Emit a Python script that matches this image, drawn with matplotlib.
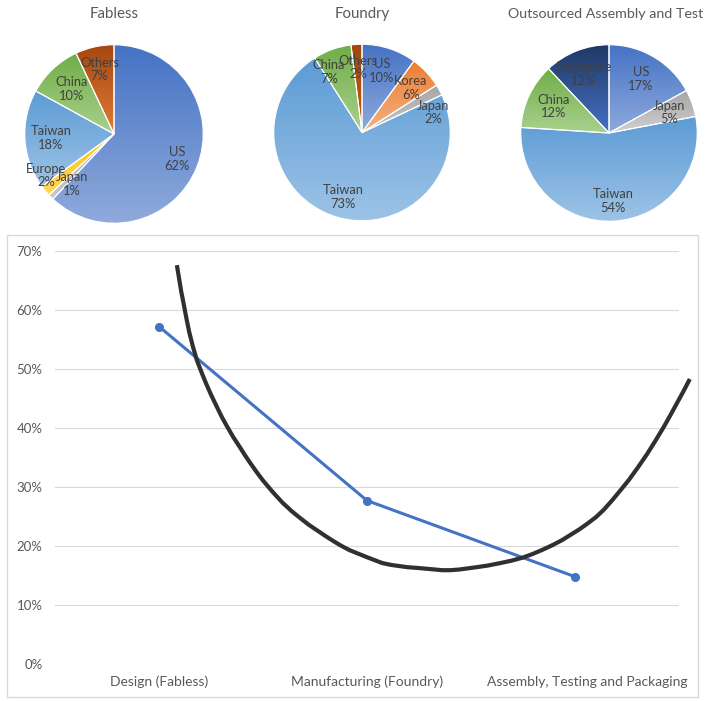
import numpy as np
import matplotlib
matplotlib.use("Agg")
import matplotlib.pyplot as plt
from matplotlib.patches import Rectangle
from matplotlib.colors import to_rgb
from matplotlib.transforms import ScaledTranslation

plt.rcParams['font.family'] = ['Lato', 'DejaVu Sans']

# ---------------- data ----------------
fabless_labels = ["US", "Japan", "Europe", "Taiwan", "China", "Others"]
fabless_values = [62, 1, 2, 18, 10, 7]

foundry_labels = ["US", "Korea", "Japan", "Taiwan", "China", "Others"]
foundry_values = [10, 6, 2, 73, 7, 2]

osat_labels = ["US", "Japan", "Taiwan", "China", "Singapore"]
osat_values = [17, 5, 54, 12, 12]

stages = ["Design (Fabless)", "Manufacturing (Foundry)", "Assembly, Testing and Packaging"]
margin_values = [0.572, 0.277, 0.148]

# smile curve traced points (category units, fraction)
smile_x = [0.086, 0.093, 0.100, 0.107, 0.115, 0.130, 0.145, 0.163, 0.182, 0.205, 0.228,
           0.252, 0.278, 0.303, 0.330, 0.358, 0.388, 0.413, 0.440, 0.470, 0.500, 0.548,
           0.595, 0.638, 0.680, 0.720, 0.758, 0.800, 0.840, 0.878, 0.916, 0.958, 1.000,
           1.037, 1.074, 1.115, 1.155, 1.196, 1.237, 1.300, 1.362, 1.400, 1.440, 1.483,
           1.525, 1.583, 1.640, 1.693, 1.746, 1.793, 1.840, 1.889, 1.938, 1.979, 2.020,
           2.060, 2.101, 2.140, 2.180, 2.220, 2.259, 2.302, 2.345, 2.386, 2.427, 2.459,
           2.490, 2.521, 2.552]
smile_y = [0.676, 0.661, 0.646, 0.631, 0.617, 0.589, 0.563, 0.538, 0.515, 0.494, 0.474,
           0.455, 0.436, 0.418, 0.401, 0.384, 0.368, 0.354, 0.340, 0.325, 0.311, 0.291,
           0.273, 0.259, 0.247, 0.236, 0.227, 0.217, 0.208, 0.200, 0.193, 0.187, 0.181,
           0.176, 0.171, 0.168, 0.166, 0.164, 0.163, 0.161, 0.159, 0.159, 0.160, 0.162,
           0.164, 0.167, 0.171, 0.175, 0.180, 0.186, 0.193, 0.201, 0.210, 0.219, 0.228,
           0.238, 0.249, 0.262, 0.278, 0.295, 0.312, 0.333, 0.355, 0.378, 0.402, 0.422,
           0.442, 0.462, 0.483]

# ---------------- style ----------------
W, H = 710, 701
fig = plt.figure(figsize=(W / 100, H / 100), dpi=100)

def mix(c, other, t):
    a = np.array(to_rgb(c)); b = np.array(to_rgb(other))
    return a * (1 - t) + b * t

fabless_top = ["#4472C4", "#A5A5A5", "#FFC000", "#5B9BD5", "#70AD47", "#A5470F"]
fabless_bot = ["#8FAADC", "#C9C9C9", "#FFD966", "#9DC3E6", "#A9D18E", "#E27A36"]
foundry_top = ["#4472C4", "#ED7D31", "#A5A5A5", "#5B9BD5", "#70AD47", "#9E480E"]
foundry_bot = ["#8FAADC", "#F4B183", "#C9C9C9", "#9DC3E6", "#A9D18E", "#C55A11"]
osat_top = ["#4472C4", "#A5A5A5", "#5B9BD5", "#70AD47", "#203864"]
osat_bot = ["#8FAADC", "#D0D0D0", "#9DC3E6", "#A9D18E", "#4472C4"]

fabless_lab = [(0.76, 0), (0.73, -5), (0.89, 8), (0.71, 0), (0.69, 0), (0.74, 0)]
foundry_lab = [(0.73, 0), (0.75, 1), (0.84, 13), (0.76, 0), (0.78, -9), (0.74, 0)]
osat_lab = [(0.71, 0), (0.72, 1), (0.77, 0), (0.70, 0), (0.73, -2)]

pies = [
    ("Fabless", fabless_labels, fabless_values, fabless_top, fabless_bot, fabless_lab, (114, 134, 91), 114, 10.8),
    ("Foundry", foundry_labels, foundry_values, foundry_top, foundry_bot, foundry_lab, (362, 132.5, 90), 362, 10.8),
    ("Outsourced Assembly and Test", osat_labels, osat_values, osat_top, osat_bot, osat_lab, (609, 133, 90), 606, 10.3),
]

label_color = "#404040"
title_color = "#595959"

for title, labels, values, tops, bots, labpos, (cx, cy, r), tx, tfs in pies:
    ax = fig.add_axes([(cx - r) / W, (H - cy - r) / H, 2 * r / W, 2 * r / H])
    wedges, _ = ax.pie(values, colors=tops, startangle=90, counterclock=False, radius=1,
                       wedgeprops=dict(edgecolor="white", linewidth=0.8))
    for w, ct, cb in zip(wedges, tops, bots):
        ext = w.get_path().get_extents()
        grad = np.linspace(0, 1, 256)
        img = np.array([mix(ct, cb, g) for g in grad])[:, None, :]
        im = ax.imshow(img, extent=[ext.x0, ext.x1, ext.y0, ext.y1], aspect="auto",
                       origin="upper", zorder=0.5, interpolation="bilinear")
        im.set_clip_path(w)
        w.set_facecolor("none")
        w.set_zorder(2)
    ax.set_xlim(-1.02, 1.02)
    ax.set_ylim(-1.02, 1.02)
    ax.set_aspect("equal")
    ax.axis("off")
    total = float(sum(values))
    cum = 0.0
    for lab, v, (rf, dang) in zip(labels, values, labpos):
        mid = (cum + v / 2) / total
        cum += v
        ang = np.deg2rad(90 - 360 * mid - dang)
        ax.text(rf * np.cos(ang), rf * np.sin(ang), f"{lab}\n{v}%", ha="center", va="center",
                fontsize=9.3, color=label_color, zorder=3, linespacing=1.15)
    fig.text(tx / W, 1 - 14 / H, title, ha="center", va="center", fontsize=tfs, color=title_color)

# ---------------- line chart ----------------
fig.patches.append(Rectangle((7 / W, (H - 697) / H), 691 / W, 462 / H, transform=fig.transFigure,
                             fill=False, edgecolor="#D9D9D9", linewidth=1.0))

ax2 = fig.add_axes([55 / W, (H - 664) / H, (679 - 55) / W, (664 - 251) / H])
x = np.arange(len(stages))
ax2.set_xlim(-0.5, 2.5)
ax2.set_ylim(0, 0.7)
ax2.set_yticks(np.arange(0, 0.71, 0.1))
ax2.set_yticklabels([f"{int(round(t * 100))}%" for t in np.arange(0, 0.71, 0.1)])
ax2.yaxis.grid(True, color="#D9D9D9", linewidth=0.8)
ax2.set_axisbelow(True)
for s in ax2.spines.values():
    s.set_visible(False)
ax2.tick_params(axis="both", length=0, labelsize=9.5, labelcolor=title_color)
ax2.tick_params(axis="y", pad=9)
ax2.tick_params(axis="x", pad=8.5, labelsize=10)
ax2.set_xticks(x)
ax2.set_xticklabels(stages)
lbl = ax2.get_xticklabels()[2]
lbl.set_transform(lbl.get_transform() + ScaledTranslation(0.12, 0, fig.dpi_scale_trans))

ax2.plot(x, margin_values, color="#4472C4", linewidth=2.2, marker="o", markersize=5.5, zorder=3)
ax2.plot(smile_x, smile_y, color="#303030", linewidth=3.0, solid_capstyle="butt",
         solid_joinstyle="round", clip_on=False, zorder=4)

fig.savefig("out.png", dpi=100)
